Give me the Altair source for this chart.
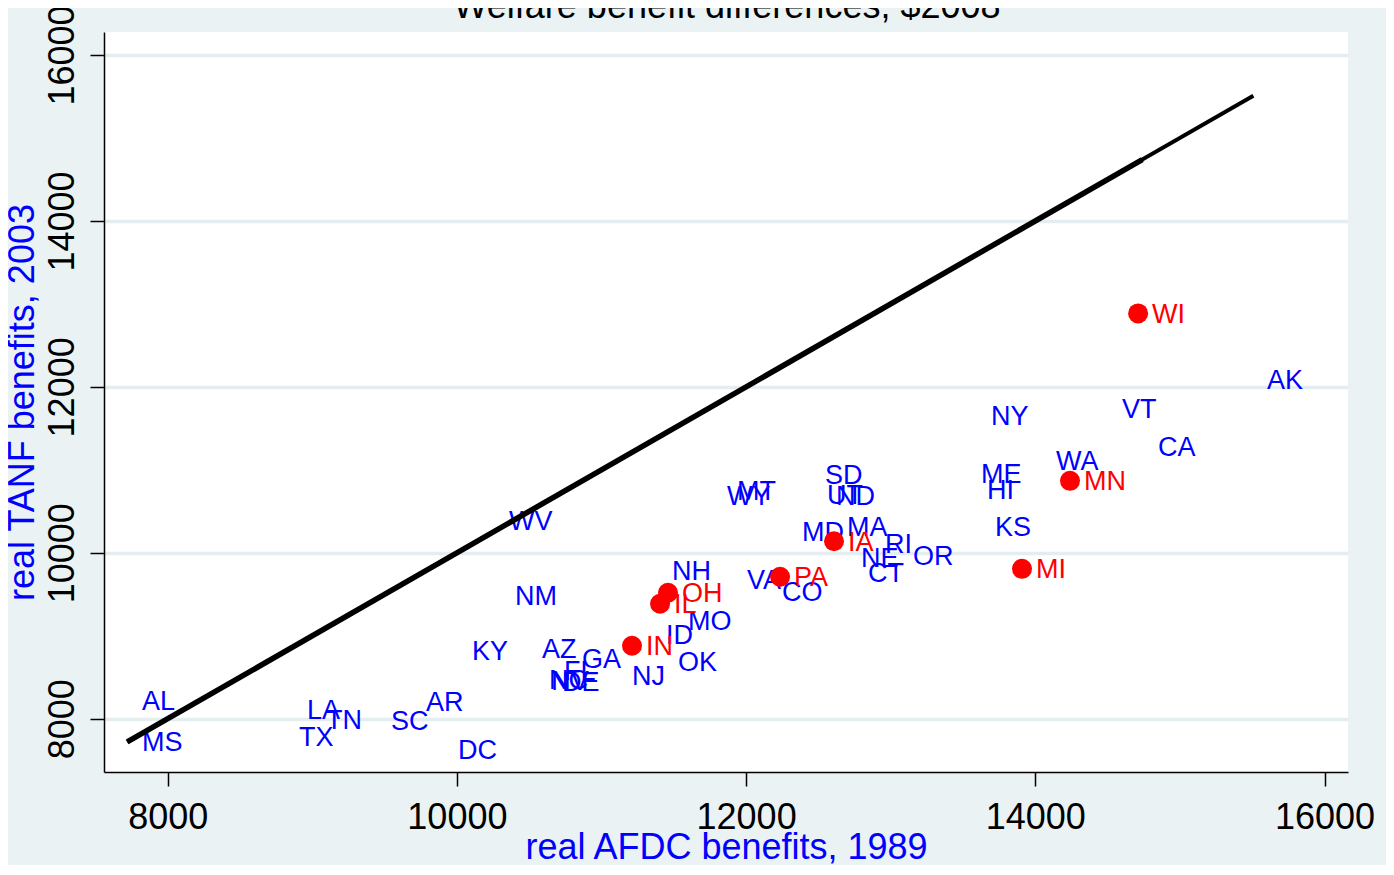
import altair as alt
import pandas as pd

# ---- data ----
states = ["AL", "MS", "LA", "TX", "TN", "SC", "AR", "DC", "KY", "NM", "WV", "AZ", "FL", "GA",
          "NC", "NV", "DE", "NJ", "OK", "ID", "MO", "NH", "VA", "CO", "WY", "MT", "MD", "MA",
          "SD", "UT", "ND", "NE", "RI", "CT", "OR", "NY", "ME", "HI", "KS", "WA", "VT", "CA", "AK",
          "WI", "MN", "MI", "IA", "PA", "OH", "IL", "IN"]
afdc_1989 = [7725, 7725, 8867, 8811, 8998, 9448, 9690, 9911, 10008, 10305, 10264, 10492, 10644, 10768,
             10540, 10555, 10630, 11114, 11432, 11349, 11502, 11391, 11910, 12152, 11771, 11841, 12290, 12601,
             12449, 12463, 12525, 12698, 12864, 12746, 13058, 13597, 13528, 13569, 13625, 14047, 14503, 14752, 15506,
             14711, 14240, 13908, 12608, 12235, 11460, 11405, 11211]
tanf_2003 = [8217, 7723, 8108, 7783, 7988, 7976, 8205, 7627, 8819, 9482, 10385, 8843, 8578, 8723,
             8470, 8458, 8446, 8518, 8687, 9012, 9181, 9783, 9675, 9530, 10687, 10747, 10253, 10313,
             10940, 10699, 10687, 9940, 10108, 9759, 9964, 11651, 10952, 10759, 10313, 11108, 11735, 11277, 12084,
             12885, 10867, 9807, 10139, 9711, 9518, 9386, 8880]
highlighted = ["WI", "MN", "MI", "IA", "PA", "OH", "IL", "IN"]

line_full = [7720, 15508]
line_overlap = [7720, 14740]

x_ticks = [8000, 10000, 12000, 14000, 16000]
y_ticks = [8000, 10000, 12000, 14000, 16000]
x_domain = [7559.5, 16162.5]
y_domain = [7358, 16277]

title_text = "Welfare benefit differences, $2008"
x_title = "real AFDC benefits, 1989"
y_title = "real TANF benefits, 2003"

BLUE = "#0000FF"
RED = "#FF0000"
BG = "#EAF2F3"
FONT = "Liberation Sans"

W, H = 1244, 740

df = pd.DataFrame({"state": states, "afdc": afdc_1989, "tanf": tanf_2003})
df["hl"] = df["state"].isin(highlighted)
blue_df = df[~df["hl"]]
red_df = df[df["hl"]]

xs = alt.Scale(domain=x_domain, nice=False, zero=False)
ys = alt.Scale(domain=y_domain, nice=False, zero=False)

x_axis = alt.Axis(values=x_ticks, format="d", title=x_title, grid=False,
                  labelFontSize=36, labelFont=FONT, labelColor="black",
                  labelBaseline="alphabetic", labelPadding=42, labelFlush=False, labelOverlap=False,
                  tickSize=14, tickColor="black", tickWidth=1.5,
                  domainColor="black", domainWidth=1.5,
                  titleColor=BLUE, titleFontSize=36, titleFont=FONT, titleFontWeight="normal",
                  titleBaseline="alphabetic", titleAlign="center", titleX=W / 2, titleY=86)
y_axis = alt.Axis(values=y_ticks, format="d", title=y_title, grid=True,
                  gridColor="#E4EDEF", gridWidth=3.5,
                  labelFontSize=36, labelFont=FONT, labelColor="black", labelAngle=270,
                  labelAlign="center", labelBaseline="alphabetic", labelPadding=17,
                  labelFlush=False, labelOverlap=False,
                  tickSize=14, tickColor="black", tickWidth=1.5,
                  domainColor="black", domainWidth=1.5,
                  titleColor=BLUE, titleFontSize=36, titleFont=FONT, titleFontWeight="normal",
                  titleAngle=270, titleBaseline="alphabetic", titleAlign="center",
                  titleX=-70.5, titleY=H / 2)

blue_text = alt.Chart(blue_df).mark_text(
    align="left", baseline="alphabetic", dx=14, dy=9.5, fontSize=27, font=FONT, color=BLUE
).encode(
    x=alt.X("afdc:Q", scale=xs, axis=x_axis),
    y=alt.Y("tanf:Q", scale=ys, axis=y_axis),
    text="state:N",
)

red_pts = alt.Chart(red_df).mark_circle(size=400, color=RED, opacity=1).encode(
    x=alt.X("afdc:Q", scale=xs),
    y=alt.Y("tanf:Q", scale=ys),
)

red_text = alt.Chart(red_df).mark_text(
    align="left", baseline="alphabetic", dx=14, dy=9.5, fontSize=27, font=FONT, color=RED
).encode(
    x=alt.X("afdc:Q", scale=xs),
    y=alt.Y("tanf:Q", scale=ys),
    text="state:N",
)

line_a = alt.Chart(pd.DataFrame({"v": line_full})).mark_line(
    color="black", strokeWidth=4, strokeCap="butt"
).encode(x=alt.X("v:Q", scale=xs), y=alt.Y("v:Q", scale=ys))

line_b = alt.Chart(pd.DataFrame({"v": line_overlap})).mark_line(
    color="black", strokeWidth=5.5, strokeCap="butt"
).encode(x=alt.X("v:Q", scale=xs), y=alt.Y("v:Q", scale=ys))

title_layer = alt.Chart(pd.DataFrame({"t": [title_text]})).mark_text(
    align="center", baseline="alphabetic", fontSize=36, font=FONT, color="black"
).encode(x=alt.value(W / 2 + 1), y=alt.value(-14), text="t:N")

chart = alt.layer(blue_text, red_pts, red_text, line_b, line_a, title_layer).properties(
    width=W, height=H,
    autosize=alt.AutoSizeParams(type="none"),
    padding={"left": 96, "top": 24, "right": 38, "bottom": 93},
    background=BG,
).configure_view(fill="white", stroke=None)

chart.save("out.html", embed_options={"renderer": "svg", "actions": False})
